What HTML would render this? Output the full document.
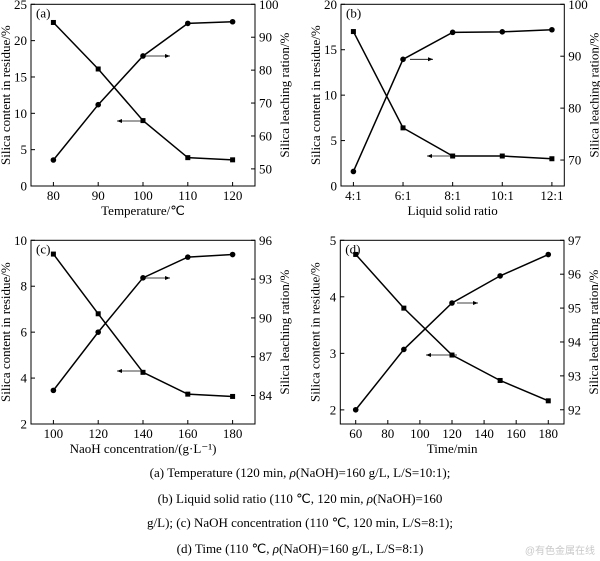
<!DOCTYPE html>
<html><head><meta charset="utf-8"><style>
body{margin:0;background:#fff;}
svg{display:block;}
svg text{font-family:"Liberation Serif",serif;}
</style></head><body>
<svg id="s" width="600" height="561" viewBox="0 0 600 561" xmlns="http://www.w3.org/2000/svg">
<text x="300" y="477" font-size="13" text-anchor="middle">(a) Temperature (120 min, <tspan font-style="italic">ρ</tspan>(NaOH)=160 g/L, L/S=10:1);</text>
<text x="300" y="503" font-size="13" text-anchor="middle">(b) Liquid solid ratio (110 ℃, 120 min, <tspan font-style="italic">ρ</tspan>(NaOH)=160</text>
<text x="300" y="527" font-size="13" text-anchor="middle">g/L); (c) NaOH concentration (110 ℃, 120 min, L/S=8:1);</text>
<text x="300" y="553" font-size="13" text-anchor="middle">(d) Time (110 ℃, <tspan font-style="italic">ρ</tspan>(NaOH)=160 g/L, L/S=8:1)</text>
<text x="595" y="554" font-size="10" fill="#c8c8c8" text-anchor="end" style="font-family:'Liberation Sans','Noto Sans CJK SC',sans-serif">@有色金属在线</text>
</svg>
<script>
const s=document.getElementById('s');const NS='http://www.w3.org/2000/svg';
const FS=13;
function el(t,a,txt){const e=document.createElementNS(NS,t);for(const k in a)e.setAttribute(k,a[k]);if(txt!=null)e.textContent=txt;s.appendChild(e);return e;}
function panel(p){
 const {L,R,T,B,x0,x1,y0,y1,r0,r1}=p;
 const X=v=>L+(v-x0)/(x1-x0)*(R-L), Y=v=>B-(v-y0)/(y1-y0)*(B-T), YR=v=>B-(v-r0)/(r1-r0)*(B-T);
 el('rect',{x:L,y:T,width:R-L,height:B-T,fill:'none',stroke:'#000','stroke-width':1});
 p.xt.forEach((v,i)=>{const x=X(v);el('line',{x1:x,y1:B,x2:x,y2:B-4,stroke:'#000'});el('text',{x:x,y:B+14,'font-size':FS,'text-anchor':'middle'},p.xl?p.xl[i]:v);});
 p.yt.forEach(v=>{const y=Y(v);el('line',{x1:L,y1:y,x2:L+4,y2:y,stroke:'#000'});el('text',{x:L-4,y:y+4.5,'font-size':FS,'text-anchor':'end'},v);});
 p.rt.forEach(v=>{const y=YR(v);el('line',{x1:R,y1:y,x2:R-4,y2:y,stroke:'#000'});el('text',{x:R+4,y:y+4.5,'font-size':FS},v);});
 el('text',{x:L+5,y:T+13,'font-size':FS},p.lab);
 el('text',{x:(L+R)/2,y:B+29,'font-size':FS,'text-anchor':'middle'},p.xtitle);
 el('text',{transform:`translate(${L-21},${(T+B)/2}) rotate(-90)`,'font-size':FS,'text-anchor':'middle'},'Silica content in residue/%');
 el('text',{transform:`translate(${R+34},${(T+B)/2}) rotate(-90)`,'font-size':FS,'text-anchor':'middle'},'Silica leaching ration/%');
 const xs=p.xd;
 const sq=xs.map((x,i)=>[X(x),Y(p.sq[i])]), ci=xs.map((x,i)=>[X(x),YR(p.ci[i])]);
 el('polyline',{points:sq.map(q=>q.join(',')).join(' '),fill:'none',stroke:'#000','stroke-width':1.5});
 el('polyline',{points:ci.map(q=>q.join(',')).join(' '),fill:'none',stroke:'#000','stroke-width':1.5});
 sq.forEach(q=>el('rect',{x:q[0]-2.5,y:q[1]-2.5,width:5,height:5,fill:'#000'}));
 ci.forEach(q=>el('circle',{cx:q[0],cy:q[1],r:2.8,fill:'#000'}));
 p.ar.forEach(a=>{el('line',{x1:a[0],y1:a[2],x2:a[1],y2:a[2],stroke:'#000','stroke-width':0.8});const d=a[1]>a[0]?-5:5;el('polygon',{points:`${a[1]},${a[2]} ${a[1]+d},${a[2]-2} ${a[1]+d},${a[2]+2}`,fill:'#000'});});
}
panel({L:31,R:255,T:4.3,B:186,x0:75,x1:125,y0:0,y1:25,r0:44.8,r1:100,xt:[80,90,100,110,120],yt:[0,5,10,15,20,25],rt:[50,60,70,80,90,100],lab:'(a)',xtitle:'Temperature/℃',
 xd:[80,90,100,110,120],sq:[22.5,16.1,9.0,3.9,3.6],ci:[52.7,69.5,84.3,94.2,94.7],ar:[[143,170,56],[143,117,121]]});
panel({L:341,R:564.3,T:4.3,B:186,x0:3.5,x1:12.5,y0:0,y1:20,r0:65,r1:100,xt:[4,6,8,10,12],xl:['4:1','6:1','8:1','10:1','12:1'],yt:[0,5,10,15,20],rt:[70,80,90,100],lab:'(b)',xtitle:'Liquid solid ratio',
 xd:[4,6,8,10,12],sq:[17.0,6.4,3.3,3.3,3.0],ci:[67.8,89.4,94.6,94.7,95.1],ar:[[410,433,59.3],[453,427,156]]});
panel({L:31,R:255,T:240.3,B:424,x0:90,x1:190,y0:2,y1:10,r0:81.8,r1:96,xt:[100,120,140,160,180],yt:[2,4,6,8,10],rt:[84,87,90,93,96],lab:'(c)',xtitle:'NaoH concentration/(g·L⁻¹)',
 xd:[100,120,140,160,180],sq:[9.4,6.8,4.25,3.3,3.2],ci:[84.4,88.9,93.1,94.7,94.9],ar:[[143,170,278],[143,117,371]]});
panel({L:340.3,R:564,T:240.3,B:424,x0:50.4,x1:189.8,y0:1.75,y1:5,r0:91.58,r1:97,xt:[60,80,100,120,140,160,180],yt:[2,3,4,5],rt:[92,93,94,95,96,97],lab:'(d)',xtitle:'Time/min',
 xd:[60,90,120,150,180],sq:[4.75,3.8,2.97,2.52,2.16],ci:[92,93.78,95.15,95.95,96.58],ar:[[457,478,303],[457,426,355]]});
</script>
</body></html>
